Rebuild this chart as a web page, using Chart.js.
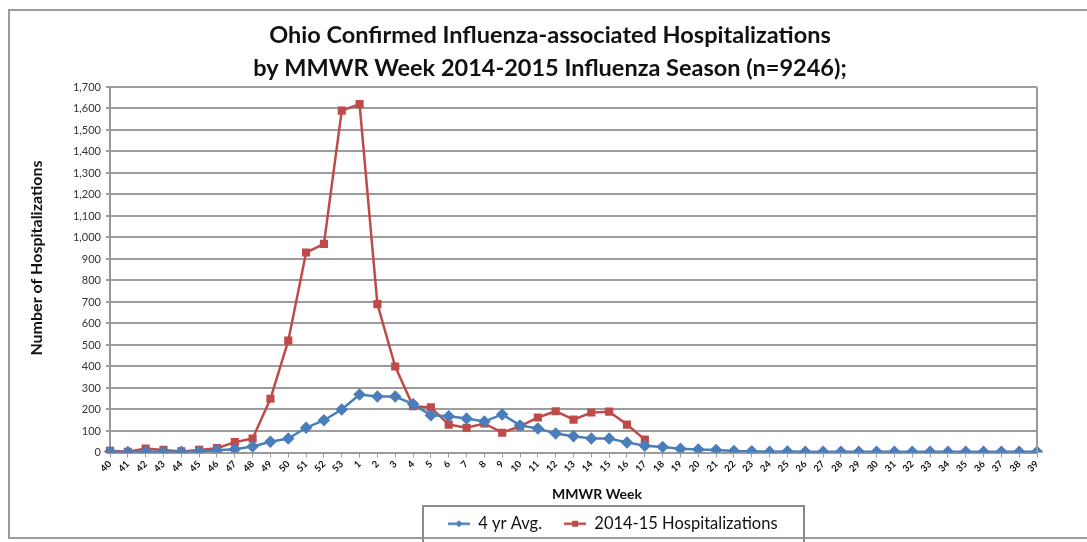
<!DOCTYPE html>
<html>
<head>
<meta charset="utf-8">
<title>Ohio Influenza Hospitalizations 2014-2015</title>
<script src="https://cdn.jsdelivr.net/npm/chart.js@4/dist/chart.umd.min.js"></script>
<style>
  html, body { margin: 0; padding: 0; background: #fff; }
</style>
</head>
<body>
<canvas id="fluChart" width="1087" height="542"></canvas>
<script>
// MMWR weeks, season starts at week 40
const weeks = ['40','41','42','43','44','45','46','47','48','49','50','51','52','53',
  '1','2','3','4','5','6','7','8','9','10','11','12','13','14','15','16','17','18','19','20',
  '21','22','23','24','25','26','27','28','29','30','31','32','33','34','35','36','37','38','39'];

// 4 yr average
const avg4yr = [3,2,3,3,3,5,10,15,28,50,65,115,150,200,
  270,260,260,225,173,169,158,144,177,126,
  112,88,76,65,65,47,31,26,17,14,
  12,7,6,3,5,3,3,3,3,3,
  3,3,3,3,3,3,3,3,3];

// 2014-15 season, reported through week 17
const hosp1415 = [8,3,18,12,5,12,20,48,65,250,520,930,970,1590,
  1620,690,400,215,210,130,115,135,92,122,163,192,153,186,190,130,60];

const xTitle = 'MMWR Week';
const yTitle = 'Number of Hospitalizations';

const blue = '#4A7EBB';
const red = '#BE4B48';
const font = 'Lato, "Open Sans", sans-serif';

// little line+marker pictures for the legend
const legendIcon = (color, shape) => {
    const c = document.createElement('canvas');
    c.width = 22; c.height = 10;
    const ctx = c.getContext('2d');
    ctx.strokeStyle = color;
    ctx.fillStyle = color;
    ctx.lineWidth = 2.5;
    ctx.beginPath();
    ctx.moveTo(0, 5); ctx.lineTo(22, 5);
    ctx.stroke();
    ctx.beginPath();
    if (shape === 'diamond') {
        ctx.moveTo(11, 1.5); ctx.lineTo(14.5, 5); ctx.lineTo(11, 8.5); ctx.lineTo(7.5, 5);
    } else {
        ctx.rect(8, 2, 6, 6);
    }
    ctx.closePath();
    ctx.fill();
    return c;
};
const icons = [legendIcon(blue, 'diamond'), legendIcon(red, 'square')];

// outer frame, axis titles, right plot edge and the legend box
const framePlugin = {
    id: 'frame',
    afterLayout(chart) {
        // Excel puts the legend a bit right of centre
        chart.legend.left = 426;
    },
    beforeDraw(chart) {
        const ctx = chart.ctx;
        ctx.save();
        ctx.fillStyle = '#fff';
        ctx.fillRect(0, 0, chart.width, chart.height);
        ctx.restore();
    },
    afterDraw(chart) {
        const ctx = chart.ctx;
        const area = chart.chartArea;
        ctx.save();
        ctx.strokeStyle = '#9a9a9a';
        ctx.lineWidth = 2;
        ctx.strokeRect(9, 10, 1100, 528);

        ctx.beginPath();
        ctx.moveTo(area.right, area.top);
        ctx.lineTo(area.right, area.bottom);
        ctx.stroke();

        // legend box
        ctx.strokeStyle = '#8a8a8a';
        ctx.strokeRect(423, 506, 381, 40);

        // axis titles
        ctx.fillStyle = '#111';
        ctx.textAlign = 'center';
        ctx.textBaseline = 'middle';
        ctx.font = 'bold 14px ' + font;
        ctx.fillText(xTitle, 597, 494);

        ctx.translate(37, 258);
        ctx.rotate(-Math.PI / 2);
        ctx.font = 'bold 16px ' + font;
        ctx.fillText(yTitle, 0, 0);
        ctx.restore();
    }
};

new Chart(document.getElementById('fluChart'), {
    type: 'line',
    data: {
        labels: weeks,
        datasets: [{
            label: '4 yr Avg.',
            data: avg4yr,
            borderColor: blue,
            backgroundColor: blue,
            borderWidth: 2.5,
            pointStyle: 'rectRot',
            pointRadius: 4.5,
            fill: false,
            tension: 0
        }, {
            label: '2014-15 Hospitalizations',
            data: hosp1415,
            borderColor: red,
            backgroundColor: red,
            borderWidth: 2.5,
            pointStyle: 'rect',
            pointRadius: 4,
            fill: false,
            tension: 0
        }]
    },
    options: {
        responsive: false,
        animation: false,
        layout: { padding: { left: 13, right: 0, top: 0, bottom: 0 } },
        plugins: {
            title: {
                display: true,
                text: ['Ohio Confirmed Influenza-associated Hospitalizations',
                       'by MMWR Week 2014-2015 Influenza Season (n=9246);'],
                color: '#111',
                font: { family: font, size: 23.5, weight: 'bold', lineHeight: 1.404 },
                padding: { top: 18.5, bottom: 2.5 }
            },
            legend: {
                position: 'bottom',
                align: 'start',
                labels: {
                    color: '#111',
                    font: { family: font, size: 16.5 },
                    usePointStyle: true,
                    pointStyleWidth: 22,
                    padding: 22,
                    generateLabels(chart) {
                        const items = Chart.defaults.plugins.legend.labels.generateLabels(chart);
                        return items.map((it, i) => Object.assign(it, { pointStyle: icons[i] }));
                    }
                }
            },
            tooltip: { enabled: false }
        },
        scales: {
            x: {
                offset: false,
                afterFit(scale) { scale.height = 41; },
                grid: { drawOnChartArea: false, drawTicks: true, tickLength: 5, color: '#9a9a9a', lineWidth: 1 },
                border: { color: '#9a9a9a', width: 2 },
                ticks: {
                    autoSkip: false,
                    maxRotation: 45,
                    minRotation: 45,
                    padding: 1,
                    color: '#111',
                    font: { family: font, size: 9.5, weight: 'bold' }
                }
            },
            y: {
                min: 0,
                max: 1700,
                afterFit(scale) { scale.width = 97; },
                grid: { color: '#9c9c9c', lineWidth: 2, tickLength: 4 },
                border: { color: '#9a9a9a', width: 2 },
                ticks: {
                    stepSize: 100,
                    padding: 5,
                    color: '#333',
                    font: { family: font, size: 11 },
                    callback: v => v.toLocaleString('en-US')
                }
            },
            yRight: {
                position: 'right',
                afterFit(scale) { scale.width = 50; },
                grid: { display: false },
                border: { display: false },
                ticks: { display: false }
            }
        }
    },
    plugins: [framePlugin]
});
</script>
</body>
</html>
